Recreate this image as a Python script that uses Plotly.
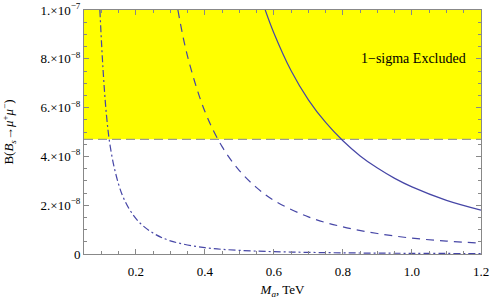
import plotly.graph_objects as go

# Data
x_solid = [0.575, 0.6, 0.65, 0.7, 0.75, 0.8, 0.85, 0.9, 0.95, 1.0, 1.1, 1.2]
y_solid = [1.0e-7, 9.06e-8, 7.51e-8, 6.32e-8, 5.39e-8, 4.64e-8, 4.02e-8, 3.52e-8, 3.10e-8, 2.75e-8, 2.20e-8, 1.80e-8]

x_dashed = [0.322, 0.35, 0.4, 0.45, 0.5, 0.55, 0.6, 0.7, 0.8, 0.9, 1.0, 1.1, 1.2]
y_dashed = [1.0e-7, 8.1e-8, 5.85e-8, 4.4e-8, 3.42e-8, 2.72e-8, 2.2e-8, 1.52e-8, 1.11e-8, 8.4e-9, 6.5e-9, 5.3e-9, 4.4e-9]

x_dashdot = [0.096, 0.105, 0.115, 0.125, 0.14, 0.16, 0.183, 0.21, 0.25, 0.3, 0.4, 0.5, 0.65, 0.82, 1.0, 1.2]
y_dashdot = [1.0e-7, 7.6e-8, 5.7e-8, 4.5e-8, 3.4e-8, 2.45e-8, 1.8e-8, 1.3e-8, 8.6e-9, 5.4e-9, 2.6e-9, 1.5e-9, 8e-10, 4.5e-10, 2.8e-10, 1.8e-10]

excl_low = 4.7e-8
excl_high = 1.0e-7
x_range = [0.05, 1.2]

y_tickvals = [0, 2e-8, 4e-8, 6e-8, 8e-8, 1e-7]
y_ticktext = ["0", "2.×10<sup>−8</sup>", "4.×10<sup>−8</sup>", "6.×10<sup>−8</sup>",
              "8.×10<sup>−8</sup>", "1.×10<sup>−7</sup>"]
x_tickvals = [0.2, 0.4, 0.6, 0.8, 1.0, 1.2]
x_ticktext = ["0.2", "0.4", "0.6", "0.8", "1.0", "1.2"]

curve_color = "#4646a6"
font_family = "Liberation Serif"

fig = go.Figure()

# Excluded region
fig.add_trace(go.Scatter(x=x_range, y=[excl_high, excl_high], mode="lines",
                         line=dict(width=0, color="#ffff00"), hoverinfo="skip", showlegend=False))
fig.add_trace(go.Scatter(x=x_range, y=[excl_low, excl_low], mode="lines",
                         fill="tonexty", fillcolor="#ffff00",
                         line=dict(width=1.2, color="#999999", dash="9px,5px"),
                         hoverinfo="skip", showlegend=False))

fig.add_trace(go.Scatter(x=x_solid, y=y_solid, mode="lines", line_shape="spline",
                         line=dict(color=curve_color, width=1.2), showlegend=False))
fig.add_trace(go.Scatter(x=x_dashed, y=y_dashed, mode="lines", line_shape="spline",
                         line=dict(color=curve_color, width=1.2, dash="8px,6px"), showlegend=False))
fig.add_trace(go.Scatter(x=x_dashdot, y=y_dashdot, mode="lines", line_shape="spline",
                         line=dict(color=curve_color, width=1.2, dash="7px,3px,2px,3px"), showlegend=False))

fig.add_annotation(x=1.004, y=8.0e-8, xref="x", yref="y", text="1−sigma Excluded",
                   showarrow=False, font=dict(family=font_family, size=14, color="black"))

axis_common = dict(showgrid=False, zeroline=False, showline=True, linecolor="#888888",
                   linewidth=1, mirror="allticks", ticks="inside", tickcolor="#888888",
                   ticklen=5, tickwidth=1, automargin=False,
                   tickfont=dict(family=font_family, size=13, color="black"))

fig.update_xaxes(range=x_range, tickvals=x_tickvals, ticktext=x_ticktext,
                 ticklabelstandoff=5,
                 minor=dict(dtick=0.05, tick0=0, ticks="inside", ticklen=3, tickcolor="#888888"),
                 title=dict(text="<i>M<sub>a</sub></i>, TeV", font=dict(family=font_family, size=13, color="black"),
                            standoff=7),
                 **axis_common)
fig.update_yaxes(range=[0, 1e-7], tickvals=y_tickvals, ticktext=y_ticktext,
                 minor=dict(dtick=5e-9, tick0=0, ticks="inside", ticklen=3, tickcolor="#888888"),
                 title=dict(text="B(<i>B<sub>s</sub></i>→<i>μ</i><sup>+</sup><i>μ</i><sup>−</sup>)",
                            font=dict(family=font_family, size=13, color="black"), standoff=26),
                 **axis_common)

fig.update_layout(width=491, height=304, margin=dict(l=84, r=10, t=10, b=50),
                  plot_bgcolor="white", paper_bgcolor="white")

fig.write_html("out.html", config={"displayModeBar": False},
               post_script="document.body.style.margin='0';")
